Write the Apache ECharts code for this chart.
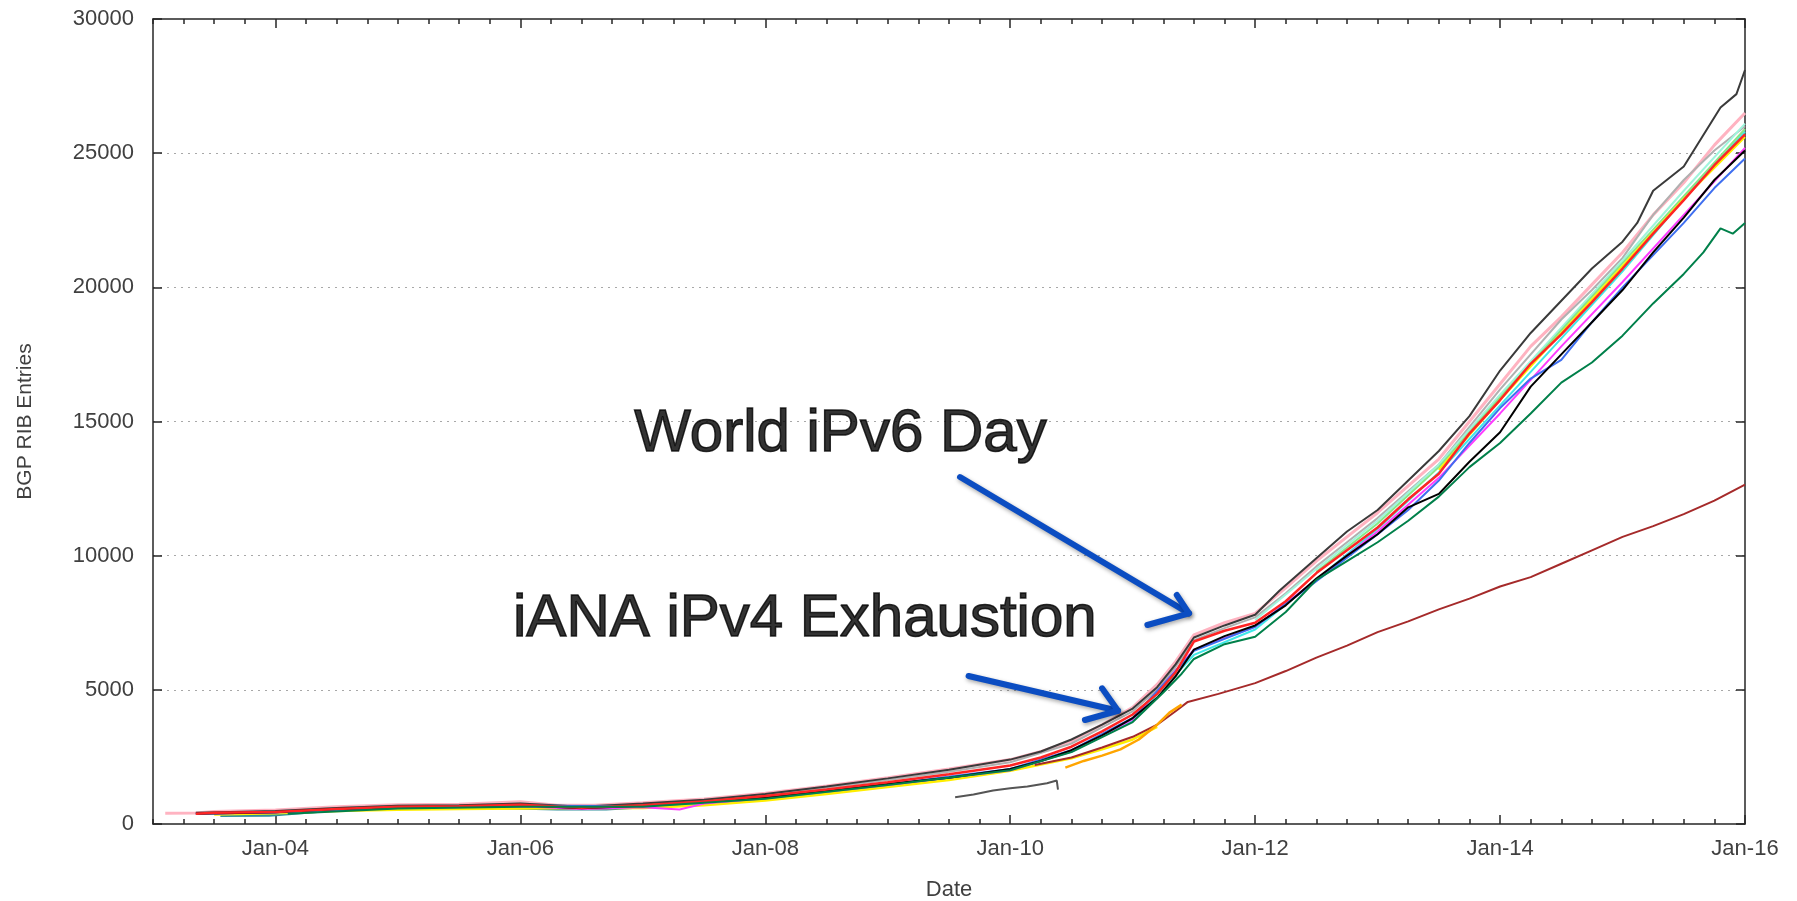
<!DOCTYPE html>
<html>
<head>
<meta charset="utf-8">
<script src="https://cdn.jsdelivr.net/npm/echarts@6/dist/echarts.min.js"></script>
<style>
html,body{margin:0;padding:0;background:#fff;}
#chart{width:1797px;height:901px;}
</style>
</head>
<body>
<div id="chart"></div>
<script>
// ---- Data: BGP IPv6 RIB entries per peer, [decimal year, entries] ----
const pinkPeer = [[2003.1,400],[2003.35,410],[2003.5,470],[2004,520],[2004.5,640],[2005,720],[2005.5,740],[2006,830],[2006.3,700],[2006.6,700],[2007,790],[2007.5,930],[2008,1150],[2008.5,1420],[2009,1720],[2009.5,2050],[2010,2400],[2010.25,2700],[2010.5,3100],[2010.75,3700],[2011,4350],[2011.2,5200],[2011.35,6050],[2011.5,7050],[2011.75,7500],[2012,7850],[2012.25,8800],[2012.5,9800],[2012.75,10700],[2013,11600],[2013.25,12600],[2013.5,13600],[2013.75,15000],[2014,16400],[2014.25,17800],[2014.5,18900],[2014.75,20100],[2015,21300],[2015.25,22700],[2015.5,23900],[2015.75,25300],[2016,26500]];
const grayPeer = [[2003.35,400],[2004,470],[2004.5,600],[2005,690],[2005.5,690],[2006,760],[2006.5,650],[2007,740],[2007.5,880],[2008,1090],[2008.5,1350],[2009,1640],[2009.5,1950],[2010,2300],[2010.5,3000],[2010.75,3600],[2011,4200],[2011.2,5000],[2011.35,5850],[2011.5,6850],[2011.75,7300],[2012,7700],[2012.25,8600],[2012.5,9600],[2012.75,10500],[2013,11400],[2013.25,12400],[2013.5,13400],[2013.75,14800],[2014,16200],[2014.25,17500],[2014.5,18800],[2014.75,19900],[2015,21100],[2015.25,22700],[2015.5,24000],[2015.75,25100],[2016,26000]];
const aquaPeer = [[2012,7600],[2012.5,9500],[2013,11300],[2013.5,13400],[2014,16000],[2014.5,18500],[2015,21000],[2015.5,23600],[2016,26100]];
const darkGrayPeer = [[2003.35,420],[2004,480],[2004.5,600],[2005,680],[2005.5,700],[2006,760],[2006.5,640],[2007,760],[2007.5,900],[2008,1120],[2008.5,1400],[2009,1700],[2009.5,2020],[2010,2400],[2010.25,2700],[2010.5,3150],[2010.75,3700],[2011,4300],[2011.2,5100],[2011.35,5950],[2011.5,6950],[2011.75,7400],[2012,7800],[2012.2,8700],[2012.5,9900],[2012.75,10900],[2013,11700],[2013.25,12800],[2013.5,13900],[2013.75,15200],[2014,16900],[2014.25,18300],[2014.5,19500],[2014.75,20700],[2015,21700],[2015.12,22400],[2015.25,23600],[2015.5,24500],[2015.65,25600],[2015.8,26700],[2015.93,27200],[2016,28100]];
const tealPeer = [[2003.55,320],[2003.95,330],[2004.5,520],[2005.5,640],[2006.3,560],[2006.7,560],[2007.5,760],[2008,950]];
const cyanPeer = [[2003.5,400],[2004,420],[2005,590],[2006,650],[2007,660],[2008,920],[2008.5,1150],[2009,1400],[2009.5,1680],[2010,2000],[2010.5,2700],[2011,3850],[2011.5,6300],[2012,7250],[2012.5,9100],[2013,11000],[2013.5,13100],[2014,15600],[2014.5,18100],[2015,20600],[2015.5,23300],[2016,25800]];
const lightGreenPeer = [[2012.5,9400],[2013,11200],[2013.5,13300],[2014,15900],[2014.5,18400],[2015,20900],[2015.5,23400],[2016,25900]];
const yellowPeer = [[2003.5,350],[2004,400],[2004.5,480],[2005,530],[2005.5,560],[2006,580],[2006.5,600],[2007,600],[2007.5,700],[2008,880],[2008.5,1120],[2009,1380],[2009.5,1640],[2010,1980],[2010.25,2220],[2010.5,2450],[2010.75,2780],[2011,3150],[2011.2,3620]];
const yellowPeer2 = [[2013.5,13200],[2014,15800],[2014.5,18300],[2015,20800],[2015.5,23300],[2016,25600]];
const magentaPeer = [[2003.5,390],[2004,440],[2005,600],[2006,660],[2006.5,560],[2007,620],[2007.3,540],[2007.5,760],[2008,960],[2009,1450],[2010,2000],[2010.5,2700],[2011,3900],[2011.5,6500],[2012,7350],[2012.5,9100],[2013,10900],[2013.5,12900],[2014,15300],[2014.5,17800],[2015,20200],[2015.5,22700],[2016,25200]];
const bluePeer = [[2003.35,380],[2004,430],[2005,610],[2006,680],[2007,670],[2008,980],[2009,1480],[2010,2050],[2010.5,2750],[2011,3950],[2011.5,6450],[2012,7350],[2012.5,9050],[2013,10800],[2013.25,11700],[2013.5,12800],[2013.75,14200],[2014,15500],[2014.25,16600],[2014.5,17300],[2014.75,18700],[2015,20000],[2015.25,21200],[2015.5,22400],[2015.75,23700],[2016,24800]];
const blackPeer = [[2003.35,380],[2004,440],[2004.5,560],[2005,620],[2005.5,640],[2006,700],[2006.5,590],[2007,680],[2007.5,820],[2008,990],[2008.5,1240],[2009,1490],[2009.5,1720],[2010,2050],[2010.25,2350],[2010.5,2750],[2010.75,3300],[2011,3950],[2011.2,4700],[2011.35,5500],[2011.5,6500],[2011.75,7000],[2012,7400],[2012.25,8150],[2012.5,9150],[2012.75,10000],[2013,10800],[2013.25,11800],[2013.5,12300],[2013.75,13500],[2014,14600],[2014.25,16300],[2014.5,17500],[2014.75,18700],[2015,19900],[2015.25,21300],[2015.5,22600],[2015.75,24000],[2016,25100]];
const redPeer = [[2003.35,380],[2003.5,420],[2004,450],[2004.5,560],[2005,640],[2005.5,660],[2006,720],[2006.5,610],[2007,700],[2007.5,840],[2008,1040],[2008.5,1290],[2009,1560],[2009.5,1850],[2010,2180],[2010.25,2480],[2010.5,2880],[2010.75,3450],[2011,4080],[2011.2,4850],[2011.35,5650],[2011.5,6800],[2011.75,7200],[2012,7500],[2012.25,8300],[2012.5,9350],[2012.75,10200],[2013,11050],[2013.25,12100],[2013.5,13050],[2013.75,14550],[2014,15800],[2014.25,17150],[2014.5,18250],[2014.75,19450],[2015,20700],[2015.25,22000],[2015.5,23250],[2015.75,24550],[2016,25700]];
const darkGreenPeer = [[2004.1,380],[2005,580],[2006,640],[2007,640],[2008,940],[2009,1450],[2010,2000],[2010.5,2680],[2011,3800],[2011.25,4900],[2011.4,5600],[2011.5,6150],[2011.75,6700],[2012,6980],[2012.25,7900],[2012.5,9100],[2012.75,9800],[2013,10500],[2013.25,11300],[2013.5,12200],[2013.75,13300],[2014,14200],[2014.25,15300],[2014.5,16450],[2014.75,17200],[2015,18200],[2015.25,19400],[2015.5,20500],[2015.66,21300],[2015.8,22200],[2015.9,22000],[2016,22400]];
const brownPeer = [[2010.2,2200],[2010.5,2480],[2010.75,2850],[2011,3250],[2011.2,3700],[2011.35,4200],[2011.45,4550],[2011.7,4850],[2012,5250],[2012.25,5700],[2012.5,6200],[2012.75,6650],[2013,7150],[2013.25,7550],[2013.5,8000],[2013.75,8400],[2014,8850],[2014.25,9200],[2014.5,9700],[2014.75,10200],[2015,10700],[2015.25,11100],[2015.5,11550],[2015.75,12050],[2016,12650]];
const orangePeer = [[2010.45,2100],[2010.6,2350],[2010.75,2550],[2010.9,2780],[2011.05,3150],[2011.2,3700],[2011.3,4150],[2011.4,4450]];
const shortGrayPeer = [[2009.55,1000],[2009.7,1100],[2009.86,1250],[2010,1330],[2010.14,1400],[2010.3,1520],[2010.38,1620],[2010.39,1280]];

// Axis ticks / labels
const yearLabels = [2004, 2006, 2008, 2010, 2012, 2014, 2016];

// Annotations: [year, entries, text]
const annotationTexts = [[2006.93, 14516, 'World iPv6 Day'], [2005.94, 7621, 'iANA iPv4 Exhaustion']];
// Arrows: shaft and chevron in data coordinates
const arrowShafts = [[[2009.59, 12930], [2011.46, 7852]], [[2009.66, 5515], [2010.88, 4220]]];
const arrowHeads = [[[2011.36, 8534], [2011.46, 7852], [2011.12, 7416]], [[2010.75, 5057], [2010.88, 4220], [2010.61, 3876]]];

const quarterTicks = [];
for (let y = 2003; y <= 2016.001; y += 0.25) quarterTicks.push(+y.toFixed(2));

const FONT = "'Liberation Sans', Arial, sans-serif";
const TXT = '#404040';
const FRAME = '#262626';

function peer(data, color, width) {
  return {type: 'line', data: data, showSymbol: false, symbol: 'none', silent: true,
    lineStyle: {color: color, width: width || 2}, itemStyle: {color: color}, animation: false};
}

const chart = echarts.init(document.getElementById('chart'), null, {renderer: 'canvas'});
const xBase = {type: 'value', min: 2003, max: 2016, gridIndex: 0, splitLine: {show: false}};
chart.setOption({
  backgroundColor: '#fff',
  animation: false,
  grid: {left: 153, right: 52, top: 19, bottom: 77, show: false, containLabel: false, outerBoundsMode: 'none'},
  xAxis: [
    Object.assign({}, xBase, {position: 'bottom',
      axisLine: {show: true, lineStyle: {color: FRAME, width: 1.5}},
      axisTick: {show: true, inside: true, length: 9, customValues: yearLabels, lineStyle: {color: FRAME, width: 1.5}},
      axisLabel: {customValues: yearLabels, showMinLabel: true, showMaxLabel: true, formatter: v => 'Jan-' + String(Math.round(v)).slice(2),
        fontSize: 22, color: TXT, fontFamily: FONT, margin: 14},
      name: 'Date', nameLocation: 'middle', nameGap: 55,
      nameTextStyle: {fontSize: 22, color: TXT, fontFamily: FONT}}),
    Object.assign({}, xBase, {position: 'bottom',
      axisLine: {show: false},
      axisTick: {show: true, inside: true, length: 5, customValues: quarterTicks, lineStyle: {color: FRAME, width: 1.5}},
      axisLabel: {show: false}}),
    Object.assign({}, xBase, {position: 'top',
      axisLine: {show: true, lineStyle: {color: FRAME, width: 1.5}},
      axisTick: {show: true, inside: true, length: 9, customValues: yearLabels, lineStyle: {color: FRAME, width: 1.5}},
      axisLabel: {show: false}}),
    Object.assign({}, xBase, {position: 'top',
      axisLine: {show: false},
      axisTick: {show: true, inside: true, length: 5, customValues: quarterTicks, lineStyle: {color: FRAME, width: 1.5}},
      axisLabel: {show: false}})
  ],
  yAxis: [
    {type: 'value', min: 0, max: 30000, interval: 5000, position: 'left',
      axisLine: {show: true, lineStyle: {color: FRAME, width: 1.5}},
      axisTick: {show: true, inside: true, length: 9, lineStyle: {color: FRAME, width: 1.5}},
      axisLabel: {fontSize: 22, color: TXT, fontFamily: FONT, margin: 19, formatter: v => String(v)},
      splitLine: {show: true, showMinLine: false, showMaxLine: false, lineStyle: {color: '#a8a8a8', width: 1, type: [2, 5]}},
      name: 'BGP RIB Entries', nameLocation: 'middle', nameGap: 117,
      nameTextStyle: {fontSize: 21, color: TXT, fontFamily: FONT}},
    {type: 'value', min: 0, max: 30000, interval: 5000, position: 'right',
      axisLine: {show: true, lineStyle: {color: FRAME, width: 1.5}},
      axisTick: {show: true, inside: true, length: 9, lineStyle: {color: FRAME, width: 1.5}},
      axisLabel: {show: false}, splitLine: {show: false}}
  ],
  series: [
    peer(pinkPeer, '#ffb3c1', 3),
    peer(grayPeer, '#b0b0b0'),
    peer(aquaPeer, '#9ff5dc'),
    peer(tealPeer, '#2f8f9a', 3),
    peer(darkGrayPeer, '#3a3a3a'),
    peer(cyanPeer, '#3ee8e8'),
    peer(lightGreenPeer, '#86e686'),
    peer(yellowPeer, '#ffee00', 2.5),
    peer(yellowPeer2, '#ffee00'),
    peer(magentaPeer, '#ff3cff'),
    peer(bluePeer, '#3f6ff0'),
    peer(blackPeer, '#000000'),
    peer(redPeer, '#ff2424', 2.5),
    peer(darkGreenPeer, '#00804a'),
    peer(brownPeer, '#a52a2a'),
    peer(orangePeer, '#ffa500', 2.5),
    peer(shortGrayPeer, '#555555'),
    {type: 'lines', coordinateSystem: 'cartesian2d', polyline: true, silent: true, animation: false, z: 5,
      data: arrowShafts.concat(arrowHeads).map(c => ({coords: c})),
      lineStyle: {color: '#0b4dc2', width: 6, opacity: 1, cap: 'round', join: 'round',
        shadowBlur: 4, shadowColor: 'rgba(0,0,0,0.35)', shadowOffsetX: 1, shadowOffsetY: 2}},
    {type: 'scatter', silent: true, animation: false, symbolSize: 0, z: 6,
      data: annotationTexts,
      label: {show: true, position: [0, 0], align: 'left', verticalAlign: 'middle',
        formatter: p => p.data[2], fontSize: 60, color: '#000', fontFamily: FONT,
        textBorderColor: '#000', textBorderWidth: 1.5}}
  ]
});
</script>
</body>
</html>
